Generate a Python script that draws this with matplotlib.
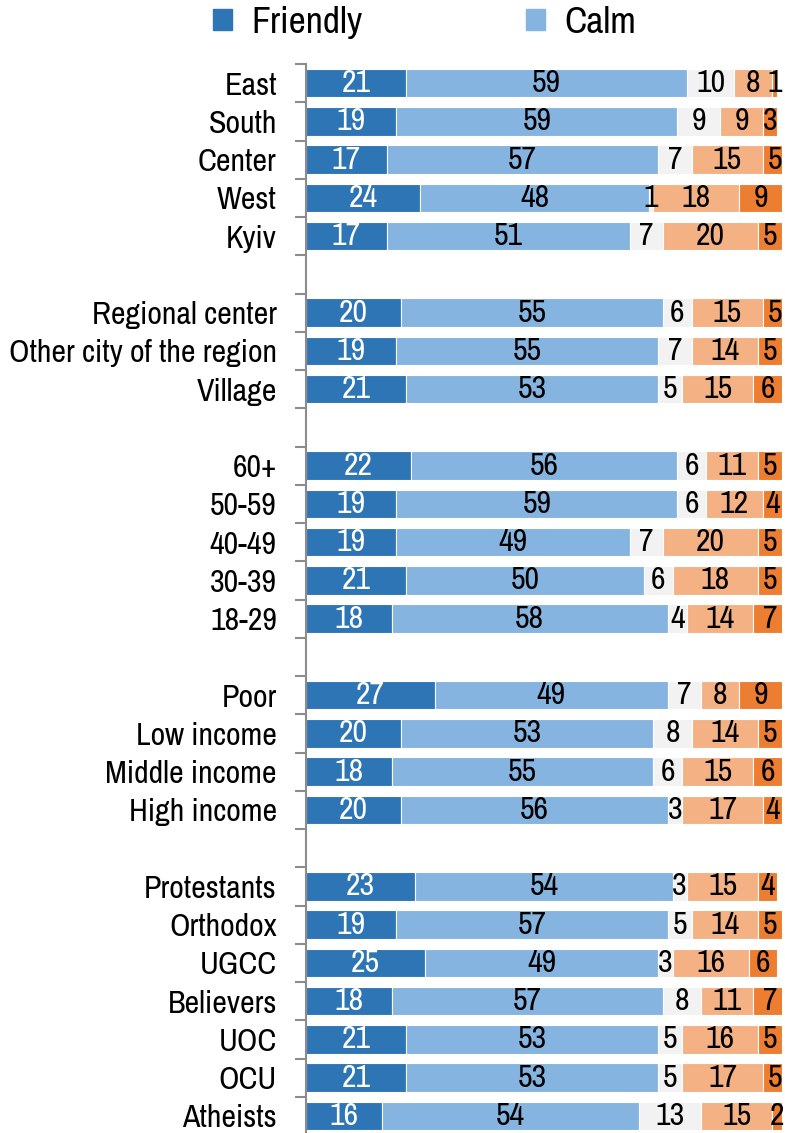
import matplotlib.pyplot as plt
from matplotlib.patches import Patch

# rows from top to bottom; "" = spacer row between groups
categories = ["East", "South", "Center", "West", "Kyiv", "",
              "Regional center", "Other city of the region", "Village", "",
              "60+", "50-59", "40-49", "30-39", "18-29", "",
              "Poor", "Low income", "Middle income", "High income", "",
              "Protestants", "Orthodox", "UGCC", "Believers", "UOC", "OCU", "Atheists"]

friendly = [21, 19, 17, 24, 17, None, 20, 19, 21, None, 22, 19, 19, 21, 18, None,
            27, 20, 18, 20, None, 23, 19, 25, 18, 21, 21, 16]
calm = [59, 59, 57, 48, 51, None, 55, 55, 53, None, 56, 59, 49, 50, 58, None,
        49, 53, 55, 56, None, 54, 57, 49, 57, 53, 53, 54]
hard_to_say = [10, 9, 7, 1, 7, None, 6, 7, 5, None, 6, 6, 7, 6, 4, None,
               7, 8, 6, 3, None, 3, 5, 3, 8, 5, 5, 13]
wary = [8, 9, 15, 18, 20, None, 15, 14, 15, None, 11, 12, 20, 18, 14, None,
        8, 14, 15, 17, None, 15, 14, 16, 11, 16, 17, 15]
hostile = [1, 3, 5, 9, 5, None, 5, 5, 6, None, 5, 4, 5, 5, 7, None,
           9, 5, 6, 4, None, 4, 5, 6, 7, 5, 5, 2]

series = [
    ("Friendly", friendly, "#2E75B6", "white"),
    ("Calm", calm, "#85B4E0", "black"),
    ("Hard to say", hard_to_say, "#F2F2F2", "black"),
    ("Wary", wary, "#F4B183", "black"),
    ("Hostile", hostile, "#ED7D31", "black"),
]

plt.rcParams["font.family"] = ["Archivo Narrow", "Liberation Sans", "DejaVu Sans"]

fig = plt.figure(figsize=(7.85, 11.33), dpi=100)
ax = fig.add_axes([306 / 785, -2 / 1133, 476 / 785, 1071 / 1133])

ypos = list(range(len(categories)))
left = [0] * len(categories)
for name, vals, color, tcolor in series:
    for i, v in enumerate(vals):
        if v is None:
            continue
        ax.barh(i, v, left=left[i], height=0.74, color=color,
                edgecolor="white", linewidth=0.8)
        ax.text(left[i] + v / 2, i, str(v), ha="center", va="center",
                fontsize=23, color=tcolor)
        left[i] += v

ax.set_xlim(0, 100)
ax.set_ylim(len(categories) - 0.5, -0.5)
ax.set_yticks(ypos)
ax.set_yticklabels(categories, fontsize=23)
ax.tick_params(axis="y", length=0, pad=21)
# group separators sit between the rows, like the category axis in Excel
ax.set_yticks([i - 0.5 for i in range(len(categories) + 1)], minor=True)
ax.tick_params(axis="y", which="minor", length=8, width=1.5, color="#8C8C8C")
ax.set_xticks([])
for s in ["top", "right", "bottom"]:
    ax.spines[s].set_visible(False)
ax.spines["left"].set_color("#8C8C8C")
ax.spines["left"].set_linewidth(1.5)

handles = [Patch(color=series[0][2]), Patch(color=series[1][2])]
fig.legend(handles, ["Friendly", "Calm"], loc="upper left",
           bbox_to_anchor=(179 / 785, 1.0247), ncol=2, frameon=False,
           fontsize=27, handlelength=0.5, handleheight=0.5,
           handletextpad=0.53, columnspacing=4.35)

fig.savefig("out.png", dpi=100)
